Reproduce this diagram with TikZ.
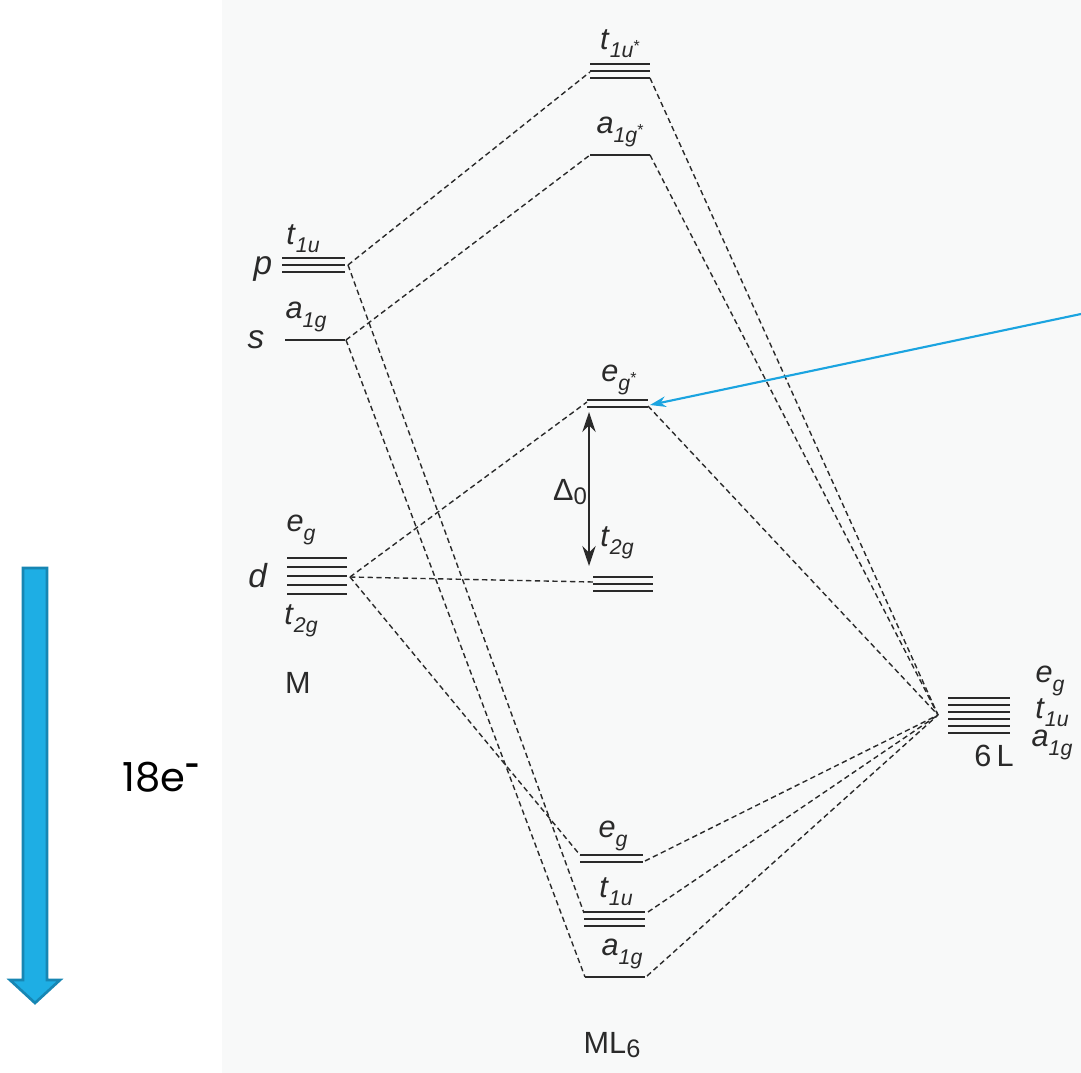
\documentclass[tikz,border=0pt]{standalone}
\usepackage{fontspec}
\setmainfont{Liberation Sans}
\newfontfamily\gothic{Poppins}
\usetikzlibrary{arrows.meta}
\definecolor{ink}{HTML}{2A2A2A}
\definecolor{scan}{HTML}{F8F9F9}
\definecolor{bluefill}{HTML}{1EAEE4}
\definecolor{blueedge}{HTML}{1786B3}
\definecolor{blueline}{HTML}{1BA4E0}
\newcommand{\orb}[2]{\textit{#1}\raisebox{-0.5ex}{\fontsize{16}{16}\selectfont\textit{#2}}}
\newcommand{\orbs}[2]{\textit{#1}\raisebox{-0.5ex}{\fontsize{16}{16}\selectfont\textit{#2}\raisebox{0.6ex}{\fontsize{12}{12}\selectfont *}}}
\begin{document}
\begin{tikzpicture}[x=0.75pt,y=-0.75pt,
  level/.style={draw=ink,line width=1.4pt},
  conn/.style={draw=ink,line width=1.05pt,dash pattern=on 4pt off 2.6pt},
  lbl/.style={font=\fontsize{23}{23}\selectfont,text=ink,inner sep=0pt},
  big/.style={font=\fontsize{23}{23}\selectfont,text=ink,inner sep=0pt}]
\useasboundingbox (0,0) rectangle (1081,1073);
\fill[white] (0,0) rectangle (1081,1073);
\fill[scan] (222,0) rectangle (1081,1073);

% ---- levels ----
\foreach \y in {64,71,78} \draw[level] (590,\y) -- (650,\y);
\draw[level] (590,155) -- (650,155);
\foreach \y in {258,265,272} \draw[level] (282,\y) -- (345,\y);
\draw[level] (285,340) -- (345,340);
\foreach \y in {558,567,576,585,594} \draw[level] (287,\y) -- (347,\y);
\foreach \y in {400,407} \draw[level] (587,\y) -- (648,\y);
\foreach \y in {577,584,591} \draw[level] (593,\y) -- (653,\y);
\foreach \y in {698,705,712,719,726,733} \draw[level] (948,\y) -- (1010,\y);
\foreach \y in {855,862} \draw[level] (580,\y) -- (643,\y);
\foreach \y in {912,919,926} \draw[level] (584,\y) -- (645,\y);
\draw[level] (585,977) -- (645,977);

% ---- connector ends ----
\coordinate (pR) at (348,265);
\coordinate (sR) at (346,340);
\coordinate (dR) at (350,577);
\coordinate (tuL) at (590,72);  \coordinate (tuR) at (650,78);
\coordinate (agL) at (590,155); \coordinate (agR) at (650,155);
\coordinate (egL) at (587,402); \coordinate (egR) at (648,406);
\coordinate (tgL) at (593,582);
\coordinate (L) at (938,715);
\coordinate (beL) at (580,855); \coordinate (beR) at (645,861);
\coordinate (btL) at (584,913); \coordinate (btR) at (648,912);
\coordinate (baL) at (585,977); \coordinate (baR) at (647,976);

% ---- dashed connectors ----
\draw[conn] (pR) -- (tuL);
\draw[conn] (pR) -- (btL);
\draw[conn] (sR) -- (agL);
\draw[conn] (sR) -- (baL);
\draw[conn] (dR) -- (egL);
\draw[conn] (dR) -- (tgL);
\draw[conn] (dR) -- (beL);
\draw[conn] (tuR) -- (L);
\draw[conn] (agR) -- (L);
\draw[conn] (egR) -- (L);
\draw[conn] (beR) -- (L);
\draw[conn] (btR) -- (L);
\draw[conn] (baR) -- (L);

% ---- Delta_0 arrow ----
\coordinate (dTop) at (589,412);
\coordinate (dBot) at (589,566);
\draw[draw=ink,line width=1.7pt,{Stealth[length=15pt,width=10pt]}-{Stealth[length=15pt,width=10pt]}] (dTop) -- (dBot);
\node[big,anchor=center] (delta) at (570,492) {Δ\raisebox{-0.3ex}{\fontsize{18}{18}\selectfont 0}};

% ---- labels ----
\node[lbl] (ltus) at (620,44) {\orbs{t}{1u}};
\node[lbl] (lags) at (620,132) {\orbs{a}{1g}};
\node[lbl] (legs) at (619,380) {\orbs{e}{g}};
\node[lbl,font=\fontsize{25}{25}\selectfont] (lp) at (263,269) {\textit{p}};
\node[lbl,font=\fontsize{25}{25}\selectfont] (ls) at (256,340) {\textit{s}};
\node[lbl,font=\fontsize{25}{25}\selectfont] (ld) at (258,576) {\textit{d}};
\node[lbl] (lpt) at (303,239) {\orb{t}{1u}};
\node[lbl] (lsa) at (306,317) {\orb{a}{1g}};
\node[lbl] (lde) at (301,530) {\orb{e}{g}};
\node[lbl] (ldt) at (301,621) {\orb{t}{2g}};
\node[lbl] (lM) at (298,683) {M};
\node[lbl] (ltg) at (617,543) {\orb{t}{2g}};
\node[lbl] (lLe) at (1050,681) {\orb{e}{g}};
\node[lbl] (lLt) at (1052,713) {\orb{t}{1u}};
\node[lbl] (lLa) at (1052,745) {\orb{a}{1g}};
\node[lbl] (l6L) at (994,756) {6\,L};
\node[lbl] (lbe) at (613,836) {\orb{e}{g}};
\node[lbl] (lbt) at (616,892) {\orb{t}{1u}};
\node[lbl] (lba) at (622,954) {\orb{a}{1g}};
\node[lbl] (lML) at (612,1045) {ML\raisebox{-0.3ex}{\fontsize{19}{19}\selectfont 6}};

% ---- 18e- and blue arrow ----
\node[inner sep=0pt,text=black,font=\gothic\fontsize{30}{30}\selectfont] (e18) at (161,777) {18e\raisebox{0.75ex}{\fontsize{19}{19}\selectfont\bfseries -}};
\draw[blueedge,line width=2pt,fill=bluefill,line join=miter]
  (23,568) -- (47,568) -- (47,980) -- (60,980) -- (35,1003) -- (10,980) -- (23,980) -- cycle;

\coordinate (bStart) at (1081,314);
\coordinate (bTip) at (650,405);
\draw[blueline,line width=1.6pt,-{Stealth[length=12pt,width=8pt]}] (bStart) -- (bTip);
\end{tikzpicture}
\end{document}
